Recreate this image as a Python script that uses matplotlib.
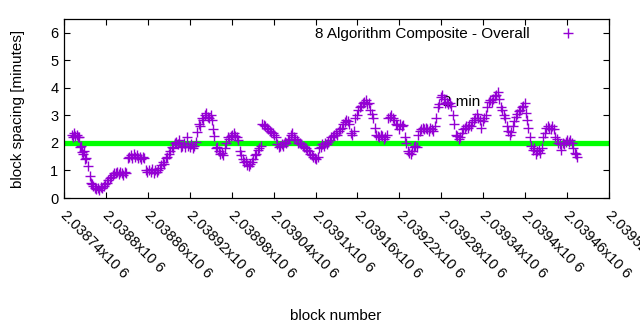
#!/usr/bin/env python3
from __future__ import annotations

import matplotlib

matplotlib.use("Agg")
import matplotlib.pyplot as plt
import matplotlib.transforms as mtransforms
import numpy as np

BASE = 2038740
BLOCK_OFFSET = [
    11, 13, 14, 16, 19, 20, 21, 23, 24, 26, 27, 29, 30, 31, 34, 37, 39, 40, 41, 44,
    46, 49, 50, 53, 54, 57, 59, 62, 63, 66, 67, 70, 72, 74, 76, 79, 80, 83, 84, 87,
    89, 92, 93, 96, 97, 100, 102, 104, 106, 109, 110, 113, 114, 117, 119, 122, 124, 126, 129, 130,
    133, 135, 137, 139, 142, 143, 146, 147, 150, 152, 155, 156, 159, 160, 163, 165, 167, 169, 172, 173,
    176, 177, 180, 182, 185, 186, 189, 190, 193, 195, 197, 199, 202, 203, 206, 207, 210, 212, 213, 215,
    218, 219, 222, 223, 226, 228, 230, 232, 235, 236, 239, 240, 243, 245, 248, 249, 252, 253, 256, 258,
    260, 262, 265, 266, 269, 270, 273, 275, 278, 279, 282, 283, 286, 288, 290, 292, 295, 296, 299, 301,
    303, 305, 308, 309, 312, 313, 316, 318, 321, 322, 325, 326, 329, 331, 333, 335, 338, 339, 342, 343,
    346, 348, 351, 352, 355, 356, 359, 361, 363, 365, 368, 369, 372, 373, 376, 378, 381, 382, 385, 386,
    389, 391, 394, 395, 398, 399, 402, 404, 406, 408, 411, 412, 415, 416, 419, 421, 424, 425, 428, 429,
    432, 434, 436, 438, 441, 442, 445, 446, 449, 451, 454, 455, 458, 459, 462, 464, 467, 468, 471, 472,
    475, 477, 479, 481, 484, 485, 488, 489, 492, 494, 497, 498, 501, 502, 505, 507, 509, 511, 514, 515,
    518, 519, 522, 524, 527, 528, 531, 532, 535, 537, 539, 541, 544, 545, 548, 550, 552, 554, 557, 558,
    561, 562, 565, 567, 570, 571, 574, 575, 578, 580, 582, 584, 587, 588, 591, 592, 595, 597, 600, 601,
    604, 605, 608, 610, 612, 614, 617, 618, 621, 622, 625, 627, 630, 631, 634, 635, 638, 640, 643, 644,
    647, 648, 651, 653, 655, 657, 660, 661, 663, 664, 667, 668, 671, 673, 675, 677, 680, 681, 684, 685,
    688, 690, 693, 694, 697, 698, 701, 703, 705, 707, 710, 711, 714, 716, 718, 720, 723, 724, 727, 728,
    731, 733, 734,
]
SPACING = [
    2.3, 2.2, 2.35, 2.25, 2.3, 2.2, 2.2, 1.85, 1.9, 1.67, 1.6, 1.7, 1.4, 1.45, 1.15, 0.8, 0.55, 0.5, 0.42, 0.38,
    0.33, 0.35, 0.3, 0.4, 0.35, 0.45, 0.5, 0.55, 0.65, 0.72, 0.78, 0.85, 0.9, 0.9, 0.95, 0.88, 0.95, 0.92, 0.85, 0.95,
    0.9, 1.45, 1.5, 1.55, 1.45, 1.6, 1.5, 1.55, 1.45, 1.5, 1.4, 1.5, 1.45, 1.0, 0.95, 1.0, 0.95, 1.05, 0.9, 1.0,
    0.95, 1.0, 1.1, 1.2, 1.3, 1.25, 1.45, 1.5, 1.6, 1.7, 1.85, 1.8, 2.0, 2.05, 1.95, 2.1, 1.85, 1.9, 2.0, 1.85,
    2.2, 1.9, 1.85, 1.95, 1.8, 1.9, 2.05, 2.4, 2.7, 2.6, 2.9, 2.85, 3.0, 3.07, 2.95, 2.9, 3.0, 2.85, 2.5, 2.25,
    1.8, 1.85, 1.7, 1.6, 1.62, 1.55, 1.8, 2.0, 2.2, 2.15, 2.25, 2.3, 2.35, 2.25, 2.2, 2.1, 1.7, 1.55, 1.4, 1.3,
    1.35, 1.2, 1.15, 1.25, 1.3, 1.4, 1.55, 1.6, 1.75, 1.8, 1.9, 2.7, 2.65, 2.6, 2.55, 2.5, 2.45, 2.4, 2.35, 2.3,
    2.2, 1.95, 1.85, 1.9, 1.95, 1.9, 2.05, 2.0, 2.1, 2.15, 2.3, 2.35, 2.2, 2.15, 2.1, 2.0, 2.0, 1.95, 1.9, 1.85,
    1.8, 1.75, 1.7, 1.6, 1.55, 1.5, 1.45, 1.4, 1.5, 1.8, 1.85, 1.95, 1.9, 2.0, 1.95, 2.05, 2.1, 2.2, 2.25, 2.3,
    2.35, 2.3, 2.45, 2.5, 2.55, 2.7, 2.75, 2.85, 2.8, 2.7, 2.35, 2.3, 2.45, 2.9, 3.0, 3.2, 3.3, 3.35, 3.45, 3.5,
    3.55, 3.4, 3.45, 3.2, 3.05, 2.9, 2.55, 2.3, 2.25, 2.2, 2.3, 2.25, 2.15, 2.2, 2.3, 2.9, 2.95, 3.0, 2.9, 2.85,
    2.7, 2.65, 2.5, 2.7, 2.6, 2.65, 2.2, 2.0, 1.7, 1.65, 1.6, 1.7, 1.85, 1.9, 1.85, 2.3, 2.45, 2.5, 2.55, 2.5,
    2.55, 2.5, 2.45, 2.55, 2.5, 2.45, 2.6, 2.9, 3.3, 3.4, 3.65, 3.75, 3.6, 3.45, 3.5, 3.4, 3.45, 3.35, 3.0, 2.7,
    2.3, 2.25, 2.15, 2.2, 2.35, 2.5, 2.55, 2.6, 2.55, 2.65, 2.6, 2.75, 2.85, 2.9, 3.05, 2.9, 2.85, 2.55, 2.8, 2.9,
    3.0, 3.3, 3.5, 3.55, 3.5, 3.6, 3.7, 3.75, 3.85, 3.6, 3.3, 3.2, 3.0, 2.9, 2.6, 2.45, 2.3, 2.4, 2.6, 2.8,
    2.95, 3.05, 3.15, 3.2, 3.3, 3.35, 3.45, 3.1, 2.85, 2.55, 2.2, 1.9, 1.75, 1.8, 1.6, 1.7, 1.75, 1.65, 1.8, 2.2,
    2.35, 2.55, 2.6, 2.55, 2.5, 2.6, 2.5, 2.2, 2.15, 2.0, 1.95, 1.75, 2.0, 1.95, 2.05, 2.1, 2.05, 2.1, 2.0, 1.8,
    1.65, 1.6, 1.5,
]
TARGET = 2.0
XTICKS = [2038740 + 60 * i for i in range(14)]
X_RANGE = (2038740, 2039520)
Y_RANGE = (0, 6.5)

PURPLE = "#9400d3"
GREEN = "#00ff00"


def tick_label(v: int) -> str:
    s = f"{v / 1e6:.5f}".rstrip("0")
    return f"{s}x10 6"


def main():
    plt.rcParams["font.family"] = ["Liberation Sans", "DejaVu Sans"]
    fig = plt.figure(figsize=(6.4, 3.3), dpi=100)
    ax = fig.add_axes([64 / 640, 1 - 198 / 330, 545 / 640, 179 / 330])

    blocks = BASE + np.array(BLOCK_OFFSET)
    ax.axhline(TARGET, color=GREEN, lw=3.8, zorder=2)
    ax.text(2039282, 3.5, "2 min", fontsize=11, va="center", ha="left", zorder=1)
    ax.plot(blocks, SPACING, "+", color=PURPLE, ms=6.5, mew=1.0, zorder=3,
            label="8 Algorithm Composite - Overall")

    ax.set_xlim(*X_RANGE)
    ax.set_ylim(*Y_RANGE)
    ax.set_yticks(range(7))
    ax.set_xticks(XTICKS)
    ax.set_xticklabels([tick_label(v) for v in XTICKS], rotation=-45,
                       ha="left", va="top", rotation_mode="anchor", fontsize=11)
    ax.tick_params(direction="in", length=4, width=0.8, labelsize=10.5,
                   top=True, right=True, pad=4)
    ax.tick_params(axis="x", pad=7)
    shift = mtransforms.ScaledTranslation(4 / 100, 0, fig.dpi_scale_trans)
    for lbl in ax.get_xticklabels():
        lbl.set_transform(lbl.get_transform() + shift)
    for sp in ax.spines.values():
        sp.set_linewidth(0.9)

    ax.set_ylabel("block spacing [minutes]", fontsize=11)
    ax.yaxis.set_label_coords(-0.072, 0.5)
    fig.text(336 / 640, 1 - 316 / 330, "block number", fontsize=11,
             ha="center", va="center")

    ax.legend(loc="upper right", bbox_to_anchor=(0.962, 1.0), frameon=False,
              markerfirst=False, fontsize=11, handlelength=1.5,
              handletextpad=1.8, borderaxespad=0.15)

    fig.savefig("out.png")
    plt.close(fig)


if __name__ == "__main__":
    main()
